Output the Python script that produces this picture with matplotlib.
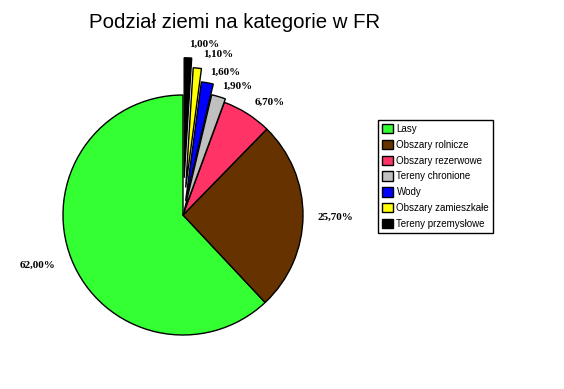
import matplotlib
matplotlib.use("Agg")
import matplotlib.pyplot as plt

# === Data ===
categories = ["Lasy", "Obszary rolnicze", "Obszary rezerwowe", "Tereny chronione",
              "Wody", "Obszary zamieszkałe", "Tereny przemysłowe"]
shares = [62.0, 25.7, 6.7, 1.9, 1.6, 1.1, 1.0]
pct_labels = ["62,00%", "25,70%", "6,70%", "1,90%", "1,60%", "1,10%", "1,00%"]

# === Style ===
colors = ["#33FF33", "#663300", "#FF3366", "#C0C0C0", "#0000FF", "#FFFF00", "#000000"]
explode = [0, 0, 0, 0.03, 0.12, 0.23, 0.31]
label_pos = [(-1.21, -0.42), (1.27, -0.02), (0.72, 0.94), (0.45, 1.075),
             (0.35, 1.19), (0.29, 1.34), (0.175, 1.42)]

W, H = 564, 389
fig = plt.figure(figsize=(W / 100, H / 100), dpi=100)
fig.patch.set_facecolor("white")

# pie centred at (183, 215) px, radius 120 px
ax = fig.add_axes([33 / W, (H - 365) / H, 300 / W, 300 / H])
wedges, _ = ax.pie(shares, colors=colors, explode=explode, startangle=90,
                   counterclock=True,
                   wedgeprops=dict(edgecolor="black", linewidth=1.0))
ax.set_xlim(-1.25, 1.25)
ax.set_ylim(-1.25, 1.25)
ax.set_aspect("equal")
ax.axis("off")

for (x, y), txt in zip(label_pos, pct_labels):
    ax.text(x, y, txt, ha="center", va="center", fontsize=8, fontweight="bold",
            family="Liberation Serif", clip_on=False)

fig.text(235 / W, 1 - 23 / H, "Podział ziemi na kategorie w FR",
         ha="center", va="center", fontsize=14.7, family="Liberation Sans")

leg = fig.legend(wedges, categories, loc="upper left",
                 bbox_to_anchor=(378 / W, 1 - 120 / H), borderaxespad=0,
                 fancybox=False, edgecolor="black", framealpha=1,
                 prop=dict(family="Liberation Sans", size=7),
                 handlelength=1.1, handleheight=1.1, handletextpad=0.4,
                 labelspacing=0.6, borderpad=0.4)
leg.get_frame().set_linewidth(1.0)

fig.savefig("out.png", dpi=100)
